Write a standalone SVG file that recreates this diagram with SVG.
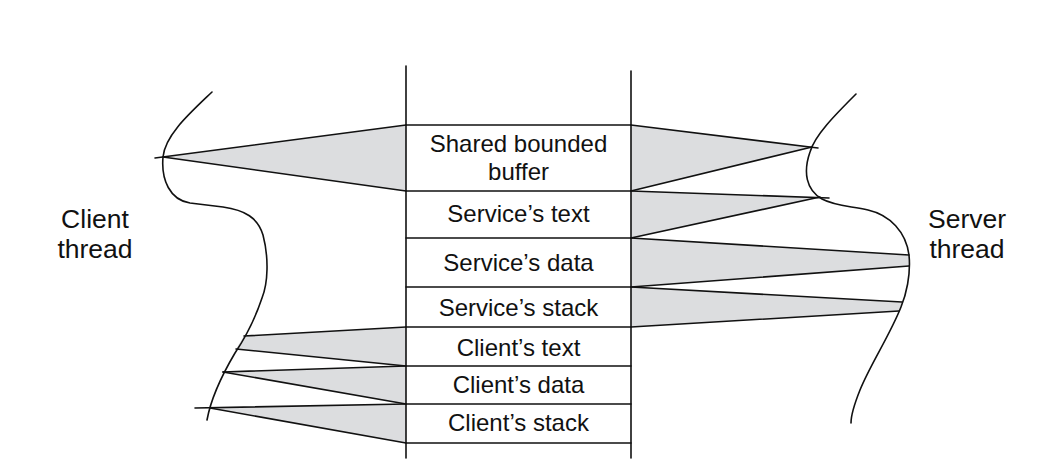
<svg xmlns="http://www.w3.org/2000/svg" width="1042" height="474" viewBox="0 0 1042 474">
<style>
.ln{stroke:#111;stroke-width:1.6;fill:none;stroke-linecap:round;}
.sh{fill:#dcdddf;stroke:none;}
.lb{font-family:"Liberation Sans",Arial,Helvetica,sans-serif;font-size:24px;fill:#111;text-anchor:middle;}
.tl{font-family:"Liberation Sans",Arial,Helvetica,sans-serif;font-size:26.5px;fill:#111;text-anchor:middle;}
</style>
<rect width="1042" height="474" fill="#fff"/>
<g id="connectors">
  <polygon class="sh" points="163,157 406,125 406,191"/>
  <polygon class="sh" points="244,336 406,327 406,366 236,349"/>
  <polygon class="sh" points="224,372 406,366 406,404"/>
  <polygon class="sh" points="210,408 406,404 406,443"/>
  <polygon class="sh" points="631,125 812,147 631,191"/>
  <polygon class="sh" points="631,191 820,197 631,238"/>
  <polygon class="sh" points="631,238 909,255 909,266 631,287"/>
  <polygon class="sh" points="631,287 902,302 899,311 631,327"/>
  <line class="ln" x1="155" y1="158" x2="406" y2="125"/>
  <line class="ln" x1="163" y1="157" x2="406" y2="191"/>
  <line class="ln" x1="244" y1="336" x2="406" y2="327"/>
  <line class="ln" x1="236" y1="349" x2="406" y2="366"/>
  <line class="ln" x1="223" y1="372" x2="406" y2="366"/>
  <line class="ln" x1="223" y1="372" x2="406" y2="404"/>
  <line class="ln" x1="195" y1="408" x2="406" y2="404"/>
  <line class="ln" x1="210" y1="408" x2="406" y2="443"/>
  <line class="ln" x1="631" y1="125" x2="818" y2="148"/>
  <line class="ln" x1="631" y1="191" x2="812" y2="147"/>
  <line class="ln" x1="631" y1="191" x2="829" y2="198"/>
  <line class="ln" x1="631" y1="238" x2="820" y2="197"/>
  <line class="ln" x1="631" y1="238" x2="909" y2="255"/>
  <line class="ln" x1="631" y1="287" x2="909" y2="266"/>
  <line class="ln" x1="631" y1="287" x2="902" y2="302"/>
  <line class="ln" x1="631" y1="327" x2="899" y2="311"/>
</g>
<g id="client-thread">
  <path class="ln" d="M 212 92 C 190 113, 165 135, 163 157 C 161 180, 170 200, 190 203 L 223 207 C 245 210, 258 218, 263 235 C 269 258, 268 283, 262 298 C 254 322, 245 338, 235 353 C 222 375, 211 398, 207 420"/>
  <text class="tl" x="95" y="228">Client</text>
  <text class="tl" x="95" y="258">thread</text>
</g>
<g id="server-thread">
  <path class="ln" d="M 856 94 C 835 115, 815 135, 810 152 C 803 172, 806 190, 822 199 C 835 206, 850 206, 868 210 C 890 215, 906 232, 909 255 C 911 275, 906 295, 901 307 C 890 335, 870 365, 860 390 C 854 405, 851 415, 851 423"/>
  <text class="tl" x="967" y="228">Server</text>
  <text class="tl" x="967" y="258">thread</text>
</g>
<g id="address-space">
  <line class="ln" x1="406" y1="66" x2="406" y2="458"/>
  <line class="ln" x1="631" y1="71" x2="631" y2="458"/>
</g>
<g id="shared-buffer">
  <line class="ln" x1="406" y1="125" x2="631" y2="125"/>
  <text class="lb" x="518.5" y="152">Shared bounded</text>
  <text class="lb" x="518.5" y="180">buffer</text>
</g>
<g id="service-text">
  <line class="ln" x1="406" y1="191" x2="631" y2="191"/>
  <text class="lb" x="518.5" y="222">Service’s text</text>
</g>
<g id="service-data">
  <line class="ln" x1="406" y1="238" x2="631" y2="238"/>
  <text class="lb" x="518.5" y="271">Service’s data</text>
</g>
<g id="service-stack">
  <line class="ln" x1="406" y1="287" x2="631" y2="287"/>
  <text class="lb" x="518.5" y="316">Service’s stack</text>
</g>
<g id="client-text">
  <line class="ln" x1="406" y1="327" x2="631" y2="327"/>
  <text class="lb" x="518.5" y="356">Client’s text</text>
</g>
<g id="client-data">
  <line class="ln" x1="406" y1="366" x2="631" y2="366"/>
  <text class="lb" x="518.5" y="393">Client’s data</text>
</g>
<g id="client-stack">
  <line class="ln" x1="406" y1="404" x2="631" y2="404"/>
  <text class="lb" x="518.5" y="431">Client’s stack</text>
  <line class="ln" x1="406" y1="443" x2="631" y2="443"/>
</g>
</svg>
